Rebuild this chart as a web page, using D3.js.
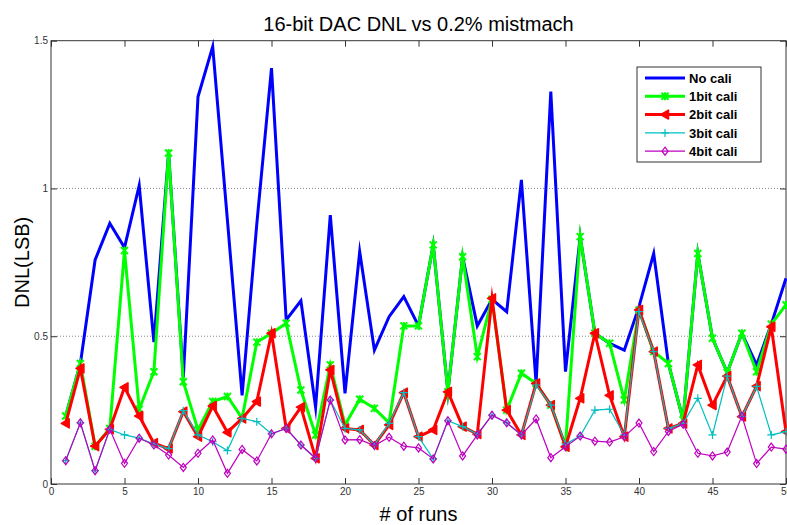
<!DOCTYPE html>
<html><head><meta charset="utf-8">
<script src="https://cdn.jsdelivr.net/npm/d3@7"></script>
<style>
body{margin:0;background:#fff}
svg{display:block}
text{font-family:"Liberation Sans",Arial,sans-serif}
</style>
</head><body>
<svg id="c" width="787" height="525"></svg>
<script>
const runs = [1,2,3,4,5,6,7,8,9,10,11,12,13,14,15,16,17,18,19,20,21,22,23,24,25,
              26,27,28,29,30,31,32,33,34,35,36,37,38,39,40,41,42,43,44,45,46,47,48,49,50];
const noCali = [0.23,0.408,0.758,0.882,0.80,1.01,0.48,1.12,0.36,1.31,
                1.48,0.894,0.30,0.88,1.407,0.555,0.62,0.26,0.91,0.307,
                0.786,0.453,0.566,0.634,0.535,0.809,0.312,0.769,0.535,0.625,
                0.583,1.029,0.34,1.328,0.38,0.837,0.51,0.476,0.453,0.60,
                0.78,0.408,0.217,0.78,0.493,0.377,0.51,0.403,0.541,0.696];
const cali1 = [0.23,0.408,0.128,0.188,0.79,0.253,0.38,1.12,0.346,0.183,
               0.279,0.296,0.223,0.48,0.51,0.544,0.318,0.166,0.403,0.20,
               0.287,0.256,0.207,0.535,0.535,0.809,0.312,0.769,0.431,0.625,
               0.25,0.375,0.34,0.267,0.13,0.837,0.51,0.476,0.284,0.589,
               0.448,0.408,0.217,0.78,0.493,0.377,0.51,0.38,0.541,0.606];
const cali2 = [0.205,0.391,0.128,0.185,0.327,0.23,0.138,0.12,0.245,0.16,
               0.264,0.175,0.222,0.279,0.51,0.188,0.26,0.087,0.386,0.188,
               0.183,0.132,0.2,0.309,0.16,0.183,0.312,0.194,0.169,0.628,
               0.25,0.166,0.34,0.267,0.126,0.29,0.51,0.3,0.16,0.589,
               0.448,0.188,0.205,0.403,0.267,0.365,0.228,0.331,0.532,0.177];
const cali3 = [0.079,0.207,0.045,0.185,0.166,0.155,0.135,0.12,0.248,0.166,
               0.143,0.113,0.222,0.211,0.17,0.188,0.132,0.087,0.284,0.188,
               0.183,0.132,0.205,0.309,0.16,0.085,0.214,0.194,0.169,0.233,
               0.207,0.166,0.335,0.267,0.135,0.162,0.25,0.253,0.166,0.583,
               0.448,0.188,0.205,0.29,0.166,0.365,0.228,0.33,0.166,0.177];
const cali4 = [0.079,0.207,0.045,0.185,0.07,0.155,0.132,0.098,0.056,0.104,
               0.149,0.036,0.117,0.078,0.17,0.188,0.132,0.087,0.284,0.149,
               0.15,0.13,0.158,0.128,0.122,0.085,0.214,0.095,0.166,0.233,
               0.207,0.166,0.22,0.089,0.126,0.162,0.145,0.142,0.16,0.206,
               0.11,0.178,0.202,0.104,0.095,0.108,0.23,0.069,0.125,0.118];
const seriesNames = ["No cali","1bit cali","2bit cali","3bit cali","4bit cali"];
const xTicks = [0,5,10,15,20,25,30,35,40,45,50];
const yTicks = [0,0.5,1,1.5];
const yTickLabels = ["0","0.5","1","1.5"];
const gridValues = [0.5,1];
const titleText = "16-bit DAC DNL vs 0.2% mistmach";
const xLabel = "# of runs";
const yLabel = "DNL(LSB)";

const styles = [
  {color:"#0000FF", width:3,   marker:"none"},
  {color:"#00FF00", width:3,   marker:"star"},
  {color:"#FF0000", width:3,   marker:"tri"},
  {color:"#00BFBF", width:1.2, marker:"plus"},
  {color:"#BF00BF", width:1.2, marker:"diamond"}
];
const allSeries = [noCali, cali1, cali2, cali3, cali4];

const svg = d3.select("#c");
const L = 51, R = 786, T = 40.7, B = 484;
const x = d3.scaleLinear().domain([0,50]).range([L,R]);
const y = d3.scaleLinear().domain([0,1.5]).range([B,T]);
const axisColor = "#333";

// grid
svg.append("g").selectAll("line").data(gridValues).join("line")
  .attr("x1",L).attr("x2",R).attr("y1",d=>y(d)).attr("y2",d=>y(d))
  .attr("stroke","#888").attr("stroke-width",1).attr("stroke-dasharray","1,2");

function styleAxis(g){
  g.select(".domain").remove();
  g.selectAll(".tick line").attr("stroke",axisColor);
  g.selectAll(".tick text").attr("fill","#333").style("font-size","10px")
    .style("font-family",'"Liberation Sans",Arial,sans-serif');
}
svg.append("g").attr("transform",`translate(0,${B})`)
  .call(d3.axisBottom(x).tickValues(xTicks).tickSizeInner(-6).tickSizeOuter(0).tickPadding(4).tickFormat(d3.format("d")))
  .call(styleAxis);
svg.append("g").attr("transform",`translate(0,${T})`)
  .call(d3.axisTop(x).tickValues(xTicks).tickSizeInner(-6).tickSizeOuter(0).tickFormat(""))
  .call(styleAxis);
svg.append("g").attr("transform",`translate(${L},0)`)
  .call(d3.axisLeft(y).tickValues(yTicks).tickSizeInner(-6).tickSizeOuter(0).tickPadding(3)
        .tickFormat((d,i)=>yTickLabels[i]))
  .call(styleAxis);
svg.append("g").attr("transform",`translate(${R},0)`)
  .call(d3.axisRight(y).tickValues(yTicks).tickSizeInner(-6).tickSizeOuter(0).tickFormat(""))
  .call(styleAxis);

svg.append("rect").attr("x",L).attr("y",T).attr("width",R-L).attr("height",B-T)
  .attr("fill","none").attr("stroke",axisColor).attr("stroke-width",1);

function drawMarker(g, type, color, cx, cy){
  if(type==="star"){
    const s=3.5;
    g.append("path").attr("d",`M${cx-s},${cy-s}L${cx+s},${cy+s}M${cx-s},${cy+s}L${cx+s},${cy-s}M${cx},${cy-s-0.5}L${cx},${cy+s+0.5}`)
      .attr("stroke",color).attr("stroke-width",2).attr("fill","none");
  } else if(type==="tri"){
    g.append("path").attr("d",`M${cx-4.5},${cy}L${cx+3.5},${cy-4.5}L${cx+3.5},${cy+4.5}Z`)
      .attr("fill",color).attr("stroke",color).attr("stroke-width",1.5).attr("stroke-linejoin","round");
  } else if(type==="plus"){
    const s=4;
    g.append("path").attr("d",`M${cx-s},${cy}L${cx+s},${cy}M${cx},${cy-s}L${cx},${cy+s}`)
      .attr("stroke",color).attr("stroke-width",1.2).attr("fill","none");
  } else if(type==="diamond"){
    g.append("path").attr("d",`M${cx},${cy-4}L${cx+3},${cy}L${cx},${cy+4}L${cx-3},${cy}Z`)
      .attr("stroke",color).attr("stroke-width",1.2).attr("fill","none");
  }
}

const line = d3.line().x((d,i)=>x(runs[i])).y(d=>y(d));
allSeries.forEach((vals,k)=>{
  const st = styles[k];
  const g = svg.append("g");
  g.append("path").datum(vals).attr("d",line)
    .attr("fill","none").attr("stroke",st.color).attr("stroke-width",st.width)
    .attr("stroke-linejoin","miter").attr("stroke-miterlimit",10);
  if(st.marker!=="none"){
    vals.forEach((v,i)=>drawMarker(g, st.marker, st.color, x(runs[i]), y(v)));
  }
});

// legend
const lg = svg.append("g");
lg.append("rect").attr("x",637).attr("y",67).attr("width",124).attr("height",95)
  .attr("fill","#fff").attr("stroke","#333").attr("stroke-width",1);
seriesNames.forEach((name,k)=>{
  const st = styles[k];
  const cy = 78 + k*18.3;
  lg.append("line").attr("x1",645).attr("x2",685).attr("y1",cy).attr("y2",cy)
    .attr("stroke",st.color).attr("stroke-width",st.width);
  if(st.marker!=="none") drawMarker(lg, st.marker, st.color, 665, cy);
  lg.append("text").attr("x",689).attr("y",cy).attr("dy","0.36em")
    .style("font-size","13px").style("font-weight","bold").attr("fill","#000").text(name);
});

// titles
svg.append("text").attr("x",(L+R)/2).attr("y",31).attr("text-anchor","middle")
  .style("font-size","20px").attr("fill","#000").text(titleText);
svg.append("text").attr("x",(L+R)/2).attr("y",521).attr("text-anchor","middle")
  .style("font-size","20px").attr("fill","#000").text(xLabel);
svg.append("text").attr("transform",`translate(29,${(T+B)/2}) rotate(-90)`).attr("text-anchor","middle")
  .style("font-size","20px").attr("fill","#000").text(yLabel);
</script>
</body></html>
